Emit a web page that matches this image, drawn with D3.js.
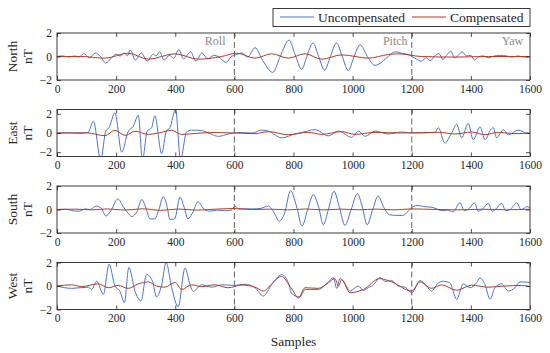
<!DOCTYPE html>
<html>
<head>
<meta charset="utf-8">
<script src="https://cdn.jsdelivr.net/npm/d3@7"></script>
<style>
  body { margin: 0; background: #fff; }
  svg text { font-family: "Liberation Serif", "Times New Roman", serif; fill: #262626; }
</style>
</head>
<body>
<svg id="chart" width="550" height="353"></svg>
<script>
// ---- data (as [sample, nT]) ----
const panelNames = ["North", "East", "South", "West"];
const xTicks = [0, 200, 400, 600, 800, 1000, 1200, 1400, 1600];
const yTicks = [-2, 0, 2];
const sectionBounds = [600, 1200];
const sectionLabels = [["Roll", 570], ["Pitch", 1186], ["Yaw", 1577]];

const northUnc = [[0,0],[20,0.05],[40,-0.05],[60,0.05],[75,-0.05],[90,0.25],[110,-0.1],[130,0.3],[145,0.05],[165,-0.55],[185,-0.1],[200,0.2],[215,0.05],[228,0.3],[238,0.05],[248,0.55],[265,-0.3],[285,0.3],[305,-0.4],[325,0.2],[335,0.05],[347,0.4],[362,-0.3],[380,0.1],[395,-0.15],[412,0.6],[428,-0.2],[440,0.1],[452,0.4],[470,-0.4],[490,0.3],[510,-0.2],[530,0.1],[545,0],[572,-0.5],[590,0],[605,0.15],[625,0.3],[645,-0.05],[670,0.75],[695,-0.3],[730,-1.35],[755,0],[785,1.4],[805,0.2],[828,-1.1],[845,0],[866,1.15],[885,0],[905,-1.15],[925,0],[945,1.15],[965,0],[985,-1.2],[1005,0],[1025,1.0],[1050,0],[1075,-0.75],[1100,-0.45],[1120,0],[1145,0.4],[1170,0.25],[1190,0.15],[1200,0],[1215,-0.2],[1232,-0.4],[1250,-0.1],[1262,-0.35],[1280,0.1],[1292,0.25],[1305,-0.25],[1318,0.1],[1332,0.45],[1345,-0.1],[1358,0.1],[1370,0.4],[1385,0.05],[1400,0.1],[1412,-0.3],[1425,-0.05],[1440,0.05],[1460,-0.1],[1480,0.05],[1500,0.1],[1520,0.05],[1540,-0.05],[1560,0.05],[1580,-0.05],[1600,0]];
const northComp = [[0,0],[80,0],[162,-0.14],[241,0.28],[309,-0.23],[399,0.23],[478,-0.23],[557,0],[608,0.28],[670,-0.14],[726,0.23],[782,-0.14],[839,0.23],[895,-0.23],[963,0.14],[1053,-0.14],[1121,0.17],[1154,0.23],[1233,0],[1346,-0.05],[1459,0],[1600,0]];

const eastUnc = [[0,0],[40,0.02],[80,-0.03],[105,0.05],[123,1.23],[148,-2.8],[165,0.2],[176,0.55],[196,2.1],[219,-2.0],[240,0.1],[258,0.7],[275,1.85],[289,-2.8],[305,0.2],[320,0.55],[331,1.8],[354,-2.15],[370,0.2],[382,0.55],[401,2.45],[418,-2.8],[438,0.1],[455,0.3],[489,0.25],[520,-0.1],[546,-0.35],[580,-0.1],[620,0.05],[660,0],[692,0.3],[715,0.2],[760,-0.5],[805,-0.1],[840,0.15],[873,0.35],[918,-0.3],[952,0.2],[997,-0.45],[1020,0.2],[1042,-0.35],[1076,0.2],[1120,-0.1],[1166,0.1],[1210,0],[1260,0.03],[1280,0.1],[1290,0.55],[1312,-1.05],[1335,0],[1352,0.9],[1369,-0.5],[1391,1.0],[1408,-0.7],[1431,0.65],[1448,-0.7],[1466,0.3],[1476,0.55],[1487,-0.5],[1510,0.35],[1527,-0.2],[1560,0.3],[1594,-0.05],[1600,0]];
const eastComp = [[0,0],[100,0.02],[162,-0.28],[196,0.28],[230,-0.25],[264,0.18],[309,-0.15],[343,0],[388,0.28],[422,-0.15],[467,-0.05],[520,0.05],[600,0],[670,-0.07],[715,0.14],[782,-0.18],[850,0.07],[895,-0.14],[963,0.14],[1008,-0.14],[1076,0.07],[1166,0],[1290,0.07],[1346,-0.1],[1402,0.1],[1448,-0.18],[1493,0.07],[1549,-0.07],[1600,0]];

const southUnc = [[0,0],[30,0.02],[55,-0.12],[75,-0.15],[95,0.05],[112,0],[132,0.3],[150,0.1],[165,-0.55],[180,-0.2],[206,0.9],[225,0.2],[240,-0.3],[253,-0.6],[270,-0.2],[287,0.85],[300,0.2],[315,-0.8],[330,-0.8],[345,0],[359,1.1],[372,0.3],[382,-0.85],[398,-0.8],[416,1.05],[430,0.2],[443,-0.8],[458,-0.3],[477,0.65],[495,0.1],[515,-0.15],[540,-0.05],[570,-0.1],[590,-0.05],[602,0.3],[615,0.05],[640,0.05],[665,0.05],[690,0.1],[715,0.3],[735,-0.3],[752,-1.0],[770,-0.3],[790,1.6],[810,0.3],[829,-1.4],[848,0],[867,1.25],[885,0.2],[901,-1.3],[918,0],[937,1.55],[955,0.2],[974,-1.35],[995,0],[1016,1.35],[1033,0.2],[1049,-1.3],[1068,0],[1086,1.15],[1105,0.2],[1125,-0.45],[1150,-0.5],[1170,-0.5],[1188,-0.15],[1205,0.25],[1220,0.35],[1240,0.25],[1265,0.2],[1285,0.05],[1300,-0.1],[1320,-0.05],[1340,-0.2],[1363,0.57],[1378,-0.1],[1395,0.1],[1412,0.57],[1425,-0.15],[1440,0.05],[1459,0.52],[1472,-0.15],[1485,0.05],[1504,0.52],[1518,-0.1],[1535,0.05],[1555,0.57],[1570,0],[1580,0.1],[1589,0.25],[1600,0.15]];
const southComp = [[0,0],[60,0.03],[120,-0.03],[170,0.05],[230,-0.05],[290,0.06],[350,-0.07],[410,0.04],[470,-0.05],[530,0.02],[600,0.08],[660,0],[720,0.03],[780,-0.03],[840,0.04],[900,-0.03],[960,0.03],[1020,-0.02],[1080,0.03],[1140,-0.03],[1200,0.05],[1280,0],[1360,-0.03],[1440,0.02],[1520,-0.02],[1600,0.02]];

const westUnc = [[0,0],[50,-0.2],[106,-0.1],[117,-0.3],[134,0.4],[157,-0.7],[176,1.86],[196,0],[213,-0.45],[228,-1.4],[243,1.58],[264,-0.45],[284,-1.27],[303,1.0],[323,0.4],[337,-0.93],[354,0.1],[369,2.0],[388,-0.15],[410,-1.77],[433,1.53],[450,0.1],[461,-0.45],[489,0.1],[523,-0.1],[557,0.1],[602,0.05],[636,0.15],[670,-0.15],[698,-0.85],[726,0.1],[760,0.97],[783,0.25],[794,-0.65],[822,-0.93],[839,-0.3],[884,-0.3],[918,0.35],[935,0.7],[946,-0.2],[957,0.63],[974,0.2],[991,-0.43],[1019,0],[1036,-0.37],[1053,-0.15],[1076,0.25],[1092,0.74],[1109,0.4],[1132,0.45],[1154,0],[1177,-0.1],[1200,-0.57],[1228,0.46],[1250,0],[1267,-0.43],[1290,0.27],[1307,0.4],[1329,0.27],[1352,-1.13],[1374,0.18],[1397,-0.15],[1419,0.27],[1431,0.69],[1448,0.1],[1465,-1.13],[1481,-0.15],[1504,0.18],[1527,-0.43],[1549,-0.15],[1566,0.35],[1600,0.3]];
const westComp = [[0,0],[50,0.1],[83,-0.05],[140,0.18],[174,-0.15],[207,0.05],[241,-0.2],[275,0.18],[309,0.35],[337,0],[365,-0.1],[399,0.3],[422,-0.3],[455,0.1],[489,-0.05],[534,0.1],[579,-0.15],[625,0.08],[670,-0.1],[698,-0.43],[726,0.18],[760,0.83],[782,0.18],[799,-0.43],[816,-1.05],[839,-0.15],[884,-0.2],[918,0.27],[940,0.63],[952,0],[963,0.55],[991,-0.57],[1036,-0.3],[1092,0.63],[1132,0.35],[1200,-0.43],[1228,0.35],[1267,-0.2],[1301,0.1],[1352,-0.37],[1402,0.07],[1459,-0.1],[1515,0],[1572,0.05],[1600,-0.05]];

const uncompensated = [northUnc, eastUnc, southUnc, westUnc];
const compensated = [northComp, eastComp, southComp, westComp];
const yMax = [2, 2.45, 2, 2];

// ---- layout ----
const svg = d3.select("#chart");
const plotLeft = 57, plotRight = 530;
const panelTop0 = 33, panelStep = 76.5, panelH = 47;
const axisColor = "#262626";
const serif = "'Liberation Serif', 'Times New Roman', serif";
const blue = "#4a76c9", red = "#b03d25";

const x = d3.scaleLinear().domain([0, 1600]).range([plotLeft, plotRight]);

panelNames.forEach((name, i) => {
    const top = panelTop0 + i * panelStep;
    const y = d3.scaleLinear().domain([-yMax[i], yMax[i]]).range([top + panelH, top]);
    const g = svg.append("g").attr("class", "panel");

    g.append("clipPath").attr("id", "clip" + i)
        .append("rect")
        .attr("x", plotLeft).attr("y", top)
        .attr("width", plotRight - plotLeft).attr("height", panelH);

    // section dividers
    g.selectAll(".divider").data(sectionBounds).join("line")
        .attr("x1", d => x(d)).attr("x2", d => x(d))
        .attr("y1", top).attr("y2", top + panelH)
        .attr("stroke", "#3a3a3a").attr("stroke-width", 0.8)
        .attr("stroke-dasharray", "6,3");

    const line = d3.line()
        .x(d => x(d[0]))
        .y(d => y(d[1]))
        .curve(d3.curveMonotoneX);

    const lines = g.append("g").attr("clip-path", `url(#clip${i})`);
    lines.append("path").datum(uncompensated[i])
        .attr("d", line).attr("fill", "none")
        .attr("stroke", blue).attr("stroke-width", 1);
    lines.append("path").datum(compensated[i])
        .attr("d", line).attr("fill", "none")
        .attr("stroke", red).attr("stroke-width", 1);

    // axes: ticks inward on all sides, labels on bottom and left
    const bottom = g.append("g").attr("transform", `translate(0,${top + panelH})`)
        .call(d3.axisBottom(x).tickValues(xTicks).tickSize(-4).tickPadding(4).tickFormat(d3.format("d")));
    const topAxis = g.append("g").attr("transform", `translate(0,${top})`)
        .call(d3.axisTop(x).tickValues(xTicks).tickSize(-4).tickFormat(""));
    const left = g.append("g").attr("transform", `translate(${plotLeft},0)`)
        .call(d3.axisLeft(y).tickValues(yTicks).tickSize(-4).tickPadding(5).tickFormat(d3.format("d")));
    const right = g.append("g").attr("transform", `translate(${plotRight},0)`)
        .call(d3.axisRight(y).tickValues(yTicks).tickSize(-4).tickFormat(""));

    [bottom, topAxis, left, right].forEach(a => {
        a.attr("font-family", serif).attr("font-size", 11.5);
        a.select(".domain").remove();
        a.selectAll("line").attr("stroke", axisColor).attr("stroke-width", 0.8);
        a.selectAll("text").attr("fill", axisColor);
    });
    bottom.selectAll("text").attr("dy", "0.75em");

    g.append("rect")
        .attr("x", plotLeft).attr("y", top)
        .attr("width", plotRight - plotLeft).attr("height", panelH)
        .attr("fill", "none").attr("stroke", axisColor).attr("stroke-width", 0.9);

    // y label (two lines, rotated)
    const yl = g.append("text")
        .attr("transform", `translate(19,${top + panelH / 2}) rotate(-90)`)
        .attr("text-anchor", "middle").attr("font-size", 13.5);
    yl.append("tspan").attr("x", 0).attr("dy", "-0.15em").text(name);
    yl.append("tspan").attr("x", 0).attr("dy", "1.1em").text("nT");

    if (i === 0) {
        g.selectAll(".section").data(sectionLabels).join("text")
            .attr("x", d => x(d[1])).attr("y", top + 12)
            .attr("text-anchor", "end").attr("font-size", 12)
            .style("fill", "#8a8a8a")
            .text(d => d[0]);
    }
});

svg.append("text")
    .attr("x", (plotLeft + plotRight) / 2).attr("y", 346)
    .attr("text-anchor", "middle").attr("font-size", 13.5)
    .text("Samples");

// legend
const legend = svg.append("g");
legend.append("rect")
    .attr("x", 273).attr("y", 8.5).attr("width", plotRight - 273).attr("height", 18)
    .attr("fill", "#fff").attr("stroke", axisColor).attr("stroke-width", 0.9);
const legendItems = [["Uncompensated", blue, 280], ["Compensated", red, 412]];
legendItems.forEach(([label, color, lx]) => {
    legend.append("line")
        .attr("x1", lx).attr("x2", lx + 34).attr("y1", 17).attr("y2", 17)
        .attr("stroke", color).attr("stroke-width", 1);
    legend.append("text")
        .attr("x", lx + 38).attr("y", 21.5).attr("font-size", 13.5)
        .text(label);
});
</script>
</body>
</html>
